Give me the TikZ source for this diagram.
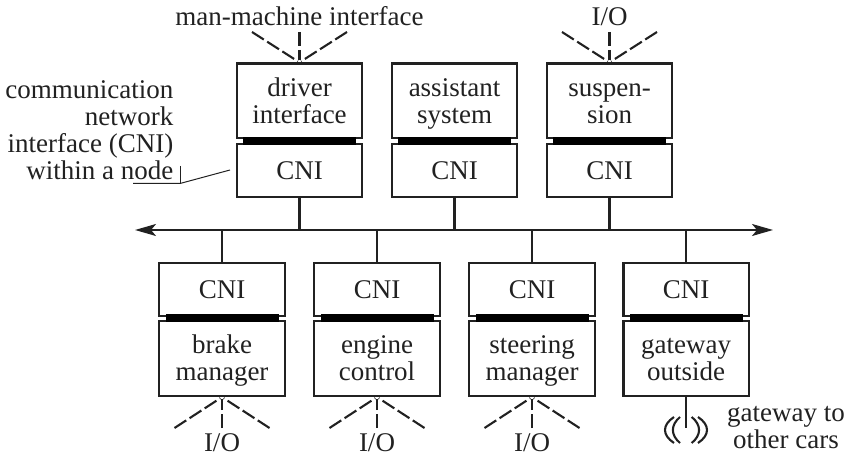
\documentclass[tikz,border=0pt]{standalone}
\usepackage{fontspec}
\setmainfont{Liberation Serif}
\usetikzlibrary{arrows.meta}
\definecolor{ink}{gray}{0.13}
\newcommand{\topfirst}{\rule{0pt}{26pt}}
\newcommand{\botfirst}{\rule{0pt}{24pt}}
\newcommand{\lastline}{\rule[-7pt]{0pt}{7pt}}
\tikzset{
  x=1pt,y=-1pt,
  boxnode/.style={draw=ink,line width=2.2pt,minimum width=125.6pt,inner sep=0pt,align=center,font=\fontsize{27}{27}\selectfont,anchor=center,text=ink},
  cninode/.style={boxnode,minimum height=53pt},
  toprow/.style={boxnode,minimum height=74.5pt},
  botrow/.style={boxnode,minimum height=75pt},
  barnode/.style={fill=black,inner sep=0pt,minimum width=113pt,minimum height=8pt},
  wire/.style={line width=2.1pt,ink},
  dashwire/.style={line width=2.1pt,ink,dash pattern=on 14pt off 4pt,shorten >=2pt},
  leader/.style={line width=1pt,ink},
  lab/.style={font=\fontsize{27}{27}\selectfont,inner sep=0pt,align=center,text=ink},
  bus/.style={line width=1.8pt,ink,{Stealth[length=21pt,width=12pt,inset=5pt]}-{Stealth[length=21pt,width=12pt,inset=5pt]}}
}
\begin{document}
\begin{tikzpicture}
\useasboundingbox (0,0) rectangle (849,462);
% top row
\foreach \n/\xc/\t in {a/299.5/{driver\\interface},b/454.5/{assistant\\system},c/609.5/{suspen-\\sion}}{
  \node[toprow] (\n f) at (\xc,100.75) {\topfirst\t\lastline};
  \node[cninode] (\n c) at (\xc,170.35) {CNI};
  \node[barnode] (\n b) at (\xc,141) {};
}
% bottom row
\foreach \n/\xc/\t in {d/222/{brake\\manager},e/377/{engine\\control},f/532/{steering\\manager},g/686.2/{gateway\\outside}}{
  \node[cninode] (\n c) at (\xc,289.3) {CNI};
  \node[botrow] (\n f) at (\xc,358.5) {\botfirst\t\lastline};
  \node[barnode] (\n b) at (\xc,318.5) {};
}
% bus
\coordinate (busL) at (135,230);
\coordinate (busR) at (773,230);
\draw[bus] (busL) -- (busR);
\foreach \n in {a,b,c}{ \draw[wire] (\n c.south) -- (\n c.south |- busL); }
\foreach \n in {d,e,f,g}{ \draw[wire] (\n c.north) -- (\n c.north |- busL); }
% dashed fans, top
\foreach \n/\xc in {a/299.5,c/609.5}{
  \coordinate (\n L) at (\xc-47.5,32);
  \coordinate (\n M) at (\xc,32);
  \coordinate (\n R) at (\xc+47.5,32);
  \draw[dashwire] (\n L) -- (\n f.north);
  \draw[dashwire] (\n M) -- (\n f.north);
  \draw[dashwire] (\n R) -- (\n f.north);
}
% dashed fans, bottom
\foreach \n/\xc in {d/222,e/377,f/532}{
  \coordinate (\n L) at (\xc-47.5,428);
  \coordinate (\n M) at (\xc,428);
  \coordinate (\n R) at (\xc+47.5,428);
  \draw[dashwire] (\n L) -- (\n f.south);
  \draw[dashwire] (\n M) -- (\n f.south);
  \draw[dashwire] (\n R) -- (\n f.south);
  \node[lab,anchor=base] (\n io) at (\xc,451) {I/O};
}
% labels
\node[lab,anchor=base] (mmi) at (299.5,26) {man-machine interface};
\node[lab,anchor=base] (cio) at (609.5,26) {I/O};
\node[lab,align=right,anchor=north east] (cnilab) at (173.5,80.5) {communication\\network\\interface (CNI)\\within a node};
\node[lab,anchor=north] (gwlab) at (786,406) {gateway to\\other cars};
% leader
\coordinate (ldA) at (230,170);
\coordinate (ldB) at (180,183.5);
\coordinate (ldC) at (133,183.5);
\coordinate (ldD) at (180,166);
\draw[leader] (ldA) -- (ldB) -- (ldC);
\draw[leader] (ldD) -- (ldB);
% antenna
\coordinate (antEnd) at (686.2,428);
\draw[wire] (gf.south) -- (antEnd);
\draw[wire] (680,417) .. controls (670.5,425) and (670.5,435) .. (680,443);
\draw[wire] (674,417) .. controls (662,425) and (662,435) .. (674,443);
\draw[wire] (691.7,417) .. controls (701.5,425) and (701.5,435) .. (691.7,443);
\draw[wire] (698,417) .. controls (710,425) and (710,435) .. (698,443);
\end{tikzpicture}
\end{document}
